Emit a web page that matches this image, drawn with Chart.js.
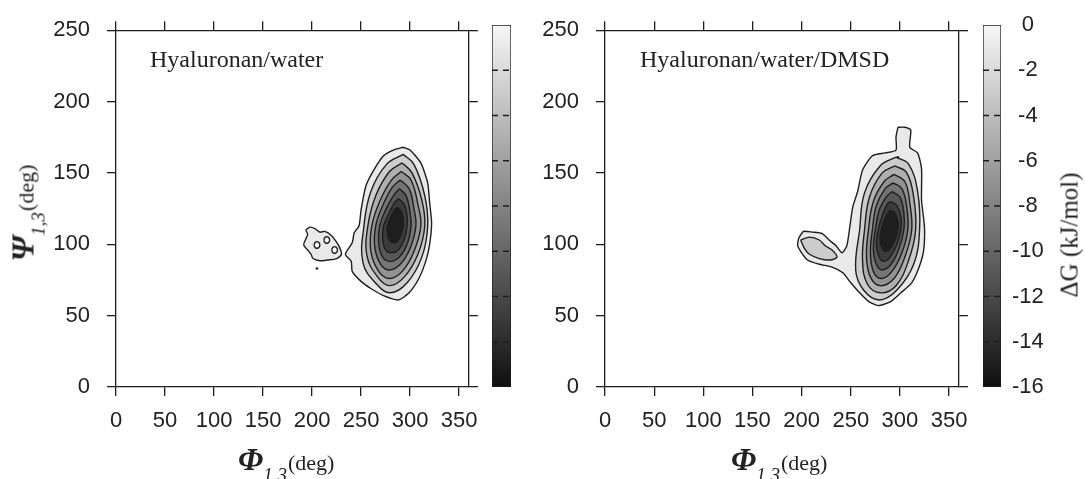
<!DOCTYPE html>
<html>
<head>
<meta charset="utf-8">
<script src="https://cdn.jsdelivr.net/npm/chart.js@4.4.0/dist/chart.umd.min.js"></script>
<style>
  body { margin: 0; background: #fff; width: 1085px; height: 479px; overflow: hidden; position: relative; }
  canvas { position: absolute; top: 0; }
  .lab { position: absolute; white-space: nowrap; color: #222; font-family: 'Liberation Serif', 'DejaVu Serif', serif; line-height: 1; }
  .sym { font-style: italic; font-weight: bold; font-size: 32px; }
  .sub { font-style: italic; font-size: 19px; position: relative; top: 11px; margin-right: 1px; }
  .deg { font-size: 22px; }
  .ttl { font-size: 24px; }
</style>
</head>
<body>
<canvas id="plotWater" width="490" height="479" style="left:0"></canvas>
<canvas id="barWater" width="40" height="479" style="left:485px"></canvas>
<canvas id="plotDmsd" width="480" height="479" style="left:500px"></canvas>
<canvas id="barDmsd" width="109" height="479" style="left:976px"></canvas>

<div class="lab ttl" style="left:150px; top:47px">Hyaluronan/water</div>
<div class="lab ttl" style="left:640px; top:47px">Hyaluronan/water/DMSD</div>

<div class="lab" style="left:238px; top:444px; font-size:31px; line-height:31px"><span class="sym">Φ</span><span class="sub">1,3</span><span class="deg">(deg)</span></div>
<div class="lab" style="left:731px; top:444px; font-size:31px; line-height:31px"><span class="sym">Φ</span><span class="sub">1,3</span><span class="deg">(deg)</span></div>
<div class="lab" style="left:25px; top:213px; font-size:31px; line-height:31px; transform: translate(-50%,-50%) rotate(-90deg)"><span class="sym">Ψ</span><span class="sub">1,3</span><span class="deg">(deg)</span></div>
<div class="lab" style="left:1069px; top:235px; font-size:25px; transform: translate(-50%,-50%) rotate(-90deg)">ΔG (kJ/mol)</div>

<script>
// axis ranges
const phiRange = [0, 360];
const psiRange = [0, 250];
const angleStep = 50;
const dGRange = [-16, 0];
const dGStep = 2;
const dashLevels = [-2, -4, -6, -8, -10, -12, -14];
const ringLevels = [0, -2, -4, -6, -8, -10, -12, -14];

// Hyaluronan/water: contour rings, outermost first [phi, psi]
const waterRing0 = [[293,168],[283,166],[273,162],[263,152],[255,141],[250,124],[248,113],[243,108],[241,101],[234,93],[240,88],[241,81],[250,74],[260,69],[273,64],[288,61],[299,66],[309,76],[316,88],[320,100],[322,115],[320,129],[318,143],[311,157],[300,166]];
const waterRing1 = [[293,163],[304,156],[315,134],[318,113],[312,91],[297,73],[280,66],[266,72],[252,87],[253,113],[260,137],[276,156]];
const waterRing2 = [[292,157],[302,150],[312,131],[315,113],[308,93],[294,77],[279,71],[267,77],[256,92],[257,113],[265,134],[279,151]];
const waterRing3 = [[291,151],[301,145],[308,128],[311,113],[304,95],[292,81],[279,76],[268,81],[260,95],[261,113],[269,130],[281,145]];
const waterRing4 = [[290,145],[299,139],[304,125],[306,113],[300,97],[290,86],[279,82],[270,86],[264,98],[265,113],[272,127],[282,140]];
const waterRing5 = [[289,139],[296,134],[300,122],[301,113],[297,100],[289,91],[280,88],[272,91],[268,101],[269,113],[275,124],[283,134]];
const waterRing6 = [[288,132],[294,128],[297,120],[297,113],[294,103],[288,96],[281,94],[275,96],[272,104],[273,113],[278,121],[284,129]];
const waterRing7 = [[287,126],[291,123],[293,118],[293,113],[291,107],[287,102],[283,101],[279,103],[277,107],[277,113],[280,119],[284,124]];
const waterSide = [[193.5,110],[198,112],[203,111],[208,108.5],[213,109],[220,106],[225,101.5],[228,98],[230,93],[225,90],[216,89],[208,88.5],[201,90],[199,93],[195.5,96],[191.5,99.5],[193.5,103.5],[195.5,107]];
const waterLoopA = [[202,99.5],[203.5,101.5],[206.5,101.5],[208,99.5],[206.5,97.5],[203.5,97.5]];
const waterLoopB = [[212,103],[213.5,105],[216.5,105],[218,103],[216.5,101],[213.5,101]];
const waterLoopC = [[220,96],[221.5,98],[224.5,98],[226,96],[224.5,94],[221.5,94]];
const waterDots = [[205,83]];

// Hyaluronan/water/DMSD
const dmsdRing0 = [[298,182],[305,182],[311,180],[310,168],[318,164],[322,153],[322,131],[325,112],[324,95],[319,83],[312,73],[301,66],[291,60],[278,57],[268,60],[259,66],[250,73],[242,80],[231,84],[218,86],[206,89],[200,94],[196,99],[197,104],[202,109],[211,108.5],[221,107.5],[228,103],[235,99],[241,94],[246,99],[249,112],[252,126],[257,137],[262,152],[272,162],[285,164],[296,166],[296,175]];
const dmsdRing1 = [[296,161],[309,156],[318,137],[320,110],[314,86],[297,68],[279,61],[263,68],[255,82],[259,110],[264,136],[280,155]];
const dmsdRing2 = [[295,155],[307,150],[314,133],[316,110],[309,89],[296,71],[280,66],[267,72],[262,88],[264,110],[269,133],[282,150]];
const dmsdRing3 = [[294,149],[305,144],[310,129],[312,110],[305,91],[294,76],[280,71],[270,77],[266,91],[268,110],[273,130],[284,144]];
const dmsdRing4 = [[293,143],[302,139],[307,126],[308,110],[302,94],[292,81],[281,76],[273,81],[270,94],[272,110],[276,127],[285,139]];
const dmsdRing5 = [[292,137],[300,133],[304,122],[304,110],[299,97],[291,86],[282,82],[276,86],[273,97],[275,110],[279,124],[286,133]];
const dmsdRing6 = [[291,130],[297,127],[301,119],[301,110],[297,100],[290,91],[284,88],[279,91],[276,100],[278,110],[282,120],[287,128]];
const dmsdRing7 = [[290,124],[295,122],[298,116],[298,110],[295,103],[290,97],[286,95],[282,97],[280,103],[281,110],[284,117],[288,122]];
const dmsdSide = [[199,103],[208,105],[218,103],[224,99],[231,96],[236,91],[229,89],[218,90],[208,93],[203,97]];
const dmsdDots = [[298,161]];

Chart.defaults.font.family = "'Liberation Sans', Arial, sans-serif";
Chart.defaults.font.size = 22;
Chart.defaults.color = '#222';

const ink = '#1e1e1e';

function grayFor(v) {
  const g = Math.round(247 - 232 * (-v / 16));
  return `rgb(${g},${g},${g})`;
}

function ring(points, fillColor, order, tension) {
  const data = points.map(([x, y]) => ({ x, y }));
  data.push(data[0]);
  return {
    data, showLine: true, fill: 'shape', backgroundColor: fillColor,
    borderColor: ink, borderWidth: 1.4, pointRadius: 0, tension, order
  };
}

function dots(points) {
  return {
    data: points.map(([x, y]) => ({ x, y })), showLine: false,
    pointRadius: 1.3, pointBackgroundColor: ink, pointBorderWidth: 0, order: 0
  };
}

function frameAxis(axis, position, range, labels, size, pad) {
  const horizontal = axis === 'x';
  return {
    axis, type: 'linear', position, min: range[0], max: range[1],
    afterFit: s => { if (horizontal) s.height = size; else s.width = size; },
    ticks: { stepSize: angleStep, includeBounds: false, display: labels, padding: pad, color: '#222' },
    grid: { drawOnChartArea: false, drawTicks: true, tickLength: 9, color: ink, lineWidth: 1.3 },
    border: { display: true, color: ink, width: 1.3 }
  };
}

function plotChart(id, datasets, leftWidth, rightWidth) {
  return new Chart(document.getElementById(id), {
    type: 'scatter',
    data: { datasets },
    options: {
      responsive: false, animation: false, events: [],
      plugins: { legend: { display: false }, tooltip: { enabled: false } },
      scales: {
        x: frameAxis('x', 'bottom', phiRange, true, 92, 12),
        xTop: frameAxis('x', 'top', phiRange, false, 25, 0),
        y: frameAxis('y', 'left', psiRange, true, leftWidth, 17),
        yRight: frameAxis('y', 'right', psiRange, false, rightWidth, 0)
      }
    }
  });
}

function mainRings(rings) {
  return rings.map((r, i) => ring(r, grayFor(ringLevels[i] - 1), 20 - i, i === 0 ? 0.2 : 0.4));
}

plotChart('plotWater', [
  ...mainRings([waterRing0, waterRing1, waterRing2, waterRing3, waterRing4, waterRing5, waterRing6, waterRing7]),
  ring(waterSide, grayFor(-1), 5, 0.3),
  ring(waterLoopA, grayFor(0), 4, 0.4),
  ring(waterLoopB, grayFor(0), 4, 0.4),
  ring(waterLoopC, grayFor(0), 4, 0.4),
  dots(waterDots)
], 116, 13);

plotChart('plotDmsd', [
  ...mainRings([dmsdRing0, dmsdRing1, dmsdRing2, dmsdRing3, dmsdRing4, dmsdRing5, dmsdRing6, dmsdRing7]),
  ring(dmsdSide, grayFor(-3), 5, 0.3),
  dots(dmsdDots)
], 105, 14);

function colorBar(id, padLeft, padRight, labels, axisWidth) {
  const rect = [[0, dGRange[0]], [1, dGRange[0]], [1, dGRange[1]], [0, dGRange[1]]].map(([x, y]) => ({ x, y }));
  rect.push(rect[0]);
  const sets = [{
    data: rect, showLine: true, fill: 'shape', pointRadius: 0, tension: 0,
    borderColor: ink, borderWidth: 1.3, order: 10,
    backgroundColor: ctx => {
      const a = ctx.chart.chartArea;
      if (!a) return grayFor(-8);
      const g = ctx.chart.ctx.createLinearGradient(0, a.top, 0, a.bottom);
      g.addColorStop(0, grayFor(0));
      g.addColorStop(1, grayFor(-16));
      return g;
    }
  }];
  dashLevels.forEach(l => sets.push({
    data: [{ x: 0, y: l }, { x: 1, y: l }], showLine: true, pointRadius: 0,
    borderColor: ink, borderWidth: 1.3, borderDash: [6, 5], order: 1
  }));
  return new Chart(document.getElementById(id), {
    type: 'scatter',
    data: { datasets: sets },
    options: {
      responsive: false, animation: false, events: [],
      layout: { padding: { left: padLeft, right: padRight, top: 25, bottom: 92 } },
      plugins: { legend: { display: false }, tooltip: { enabled: false } },
      scales: {
        x: { type: 'linear', min: 0, max: 1, display: false },
        y: {
          type: 'linear', position: 'right', min: dGRange[0], max: dGRange[1], display: labels,
          afterFit: s => { s.width = axisWidth; },
          ticks: { stepSize: dGStep, padding: 11, crossAlign: 'center', color: '#222' },
          grid: { drawOnChartArea: false, drawTicks: false },
          border: { display: false }
        }
      }
    }
  });
}

colorBar('barWater', 7, 14, false, 0);
colorBar('barDmsd', 7, 0, true, 84);
</script>
</body>
</html>
